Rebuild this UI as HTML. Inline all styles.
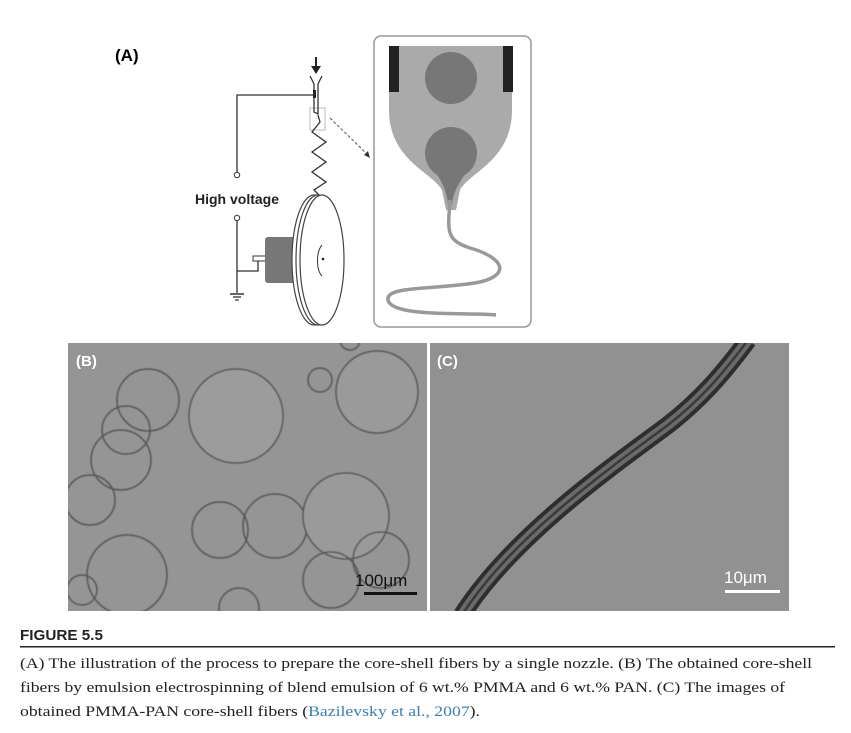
<!DOCTYPE html>
<html><head><meta charset="utf-8"><style>
html,body{margin:0;padding:0;background:#fff;}
svg{display:block;}
</style></head><body>
<svg width="851" height="733" viewBox="0 0 851 733" xmlns="http://www.w3.org/2000/svg">
<defs>
<filter id="blur1"><feGaussianBlur stdDeviation="0.6"/></filter>
<clipPath id="cb"><rect x="68" y="343" width="359" height="268"/></clipPath>
<clipPath id="cc"><rect x="430" y="343" width="359" height="268"/></clipPath>
</defs>
<!-- Panel A -->
<text x="115" y="61" font-family="Liberation Sans, sans-serif" font-weight="bold" font-size="17">(A)</text>
<rect x="374" y="36" width="157" height="291" rx="7" fill="#fff" stroke="#999" stroke-width="1.5"/>
<path d="M389 46 L512 46 L512 110 C512 160 470 172 460 190 L456 210 L446 210 L442 190 C432 172 389 160 389 110 Z" fill="#aaa"/>
<rect x="389" y="46" width="10" height="46" fill="#222"/>
<rect x="503" y="46" width="10" height="46" fill="#222"/>
<circle cx="451" cy="78" r="26" fill="#777"/>
<circle cx="451" cy="153" r="26" fill="#777"/>
<path d="M432 168 C442 180 447 192 448 205 L452 205 C453 192 460 180 470 168 Z" fill="#777"/>
<path d="M450 200 C448 230 445 240 470 248 C505 258 510 275 480 282 C440 290 385 285 388 300 C392 318 470 312 496 315" fill="none" stroke="#999" stroke-width="3.5"/>
<!-- dashed connector -->
<path d="M330 118 L368 155" stroke="#555" stroke-width="1" stroke-dasharray="3,2" fill="none"/>
<path d="M370 158 L364 155 L368 151 Z" fill="#333"/>
<rect x="310" y="108" width="15" height="22" fill="none" stroke="#bbb" stroke-width="1"/>
<!-- needle & arrow -->
<line x1="316" y1="57" x2="316" y2="68" stroke="#222" stroke-width="2"/>
<path d="M311 66 L321 66 L316 74 Z" fill="#222"/>
<path d="M310 76 L314 84 L314 112 L318 114 L318 84 L322 76" fill="none" stroke="#333" stroke-width="1.3"/>
<rect x="313" y="90" width="3" height="8" fill="#222"/>
<polyline points="313,95 237,95 237,172" fill="none" stroke="#333" stroke-width="1.3"/>
<circle cx="237" cy="175" r="2.7" fill="#fff" stroke="#333" stroke-width="1"/>
<text x="195" y="204" font-family="Liberation Sans, sans-serif" font-weight="bold" font-size="14" fill="#222">High voltage</text>
<circle cx="237" cy="218" r="2.7" fill="#fff" stroke="#333" stroke-width="1"/>
<polyline points="237,221 237,293" fill="none" stroke="#333" stroke-width="1.3"/>
<line x1="230" y1="294" x2="244" y2="294" stroke="#333" stroke-width="1.5"/>
<line x1="233" y1="297" x2="241" y2="297" stroke="#333" stroke-width="1.3"/>
<line x1="235" y1="300" x2="239" y2="300" stroke="#333" stroke-width="1.2"/>
<polyline points="237,271 258,271 258,260" fill="none" stroke="#333" stroke-width="1.3"/>
<rect x="253" y="256" width="14" height="5" fill="#fff" stroke="#333" stroke-width="1"/>
<!-- zigzag -->
<polyline points="318,115 320,122 312,132 326,142 312,152 326,162 312,172 326,182 314,190 320,196" fill="none" stroke="#333" stroke-width="1.3"/>
<!-- motor -->
<rect x="265" y="237" width="36" height="46" rx="3" fill="#777"/>
<rect x="294" y="232" width="10" height="56" fill="#888"/>
<!-- disc -->
<ellipse cx="314" cy="260" rx="22" ry="65" fill="#fff" stroke="#444" stroke-width="1.2"/>
<ellipse cx="318" cy="260" rx="22" ry="65" fill="#fff" stroke="#444" stroke-width="1.2"/>
<ellipse cx="322" cy="260" rx="22" ry="65" fill="#fff" stroke="#444" stroke-width="1.2"/>
<path d="M322 245 C316 252 316 270 322 276" fill="none" stroke="#333" stroke-width="1"/>
<circle cx="323" cy="259" r="1.3" fill="#222"/>
<!-- Panel B -->
<rect x="68" y="343" width="359" height="268" fill="#959595"/>
<g clip-path="url(#cb)">
<g fill="none" stroke="#555" stroke-width="1.5" filter="url(#blur1)">
<circle cx="236" cy="416" r="47" fill="#9c9c9c"/>
<circle cx="377" cy="392" r="41" fill="#9a9a9a"/>
<circle cx="148" cy="400" r="31"/>
<circle cx="121" cy="460" r="30"/>
<circle cx="127" cy="575" r="40"/>
<circle cx="220" cy="530" r="28"/>
<circle cx="275" cy="526" r="32"/>
<circle cx="346" cy="516" r="43" fill="#9a9a9a"/>
<circle cx="331" cy="580" r="28"/>
<circle cx="381" cy="560" r="28"/>
<circle cx="90" cy="500" r="25"/>
<circle cx="126" cy="430" r="24"/>
<circle cx="239" cy="608" r="20"/>
<circle cx="82" cy="590" r="15"/>
<circle cx="320" cy="380" r="12"/>
<circle cx="350" cy="340" r="10"/>
</g>
</g>
<text x="76" y="366" font-family="Liberation Sans, sans-serif" font-weight="bold" font-size="15" fill="#fff">(B)</text>
<text x="355" y="586" font-family="Liberation Sans, sans-serif" font-size="17" fill="#111">100μm</text>
<rect x="364" y="592" width="53" height="3" fill="#111"/>
<!-- Panel C -->
<rect x="430" y="343" width="359" height="268" fill="#919191"/>
<g clip-path="url(#cc)">
<path d="M462 615 C510 540 600 475 668 425 C700 400 722 375 748 340" fill="none" stroke="#2e2e2e" stroke-width="18"/>
<path d="M462 615 C510 540 600 475 668 425 C700 400 722 375 748 340" fill="none" stroke="#6a6a6a" stroke-width="10"/>
<path d="M462 615 C510 540 600 475 668 425 C700 400 722 375 748 340" fill="none" stroke="#3a3a3a" stroke-width="2.5"/>
</g>
<text x="437" y="366" font-family="Liberation Sans, sans-serif" font-weight="bold" font-size="15" fill="#fff">(C)</text>
<text x="724" y="583" font-family="Liberation Sans, sans-serif" font-size="17" fill="#fff">10μm</text>
<rect x="725" y="590" width="55" height="3" fill="#fff"/>
<!-- Caption -->
<text x="20" y="640" font-family="Liberation Sans, sans-serif" font-weight="bold" font-size="15" textLength="83" lengthAdjust="spacingAndGlyphs" fill="#222">FIGURE 5.5</text>
<rect x="20" y="646" width="815" height="1.5" fill="#222"/>
<g font-family="Liberation Serif, serif" font-size="15" fill="#222">
<text x="20" y="668" textLength="792" lengthAdjust="spacingAndGlyphs">(A) The illustration of the process to prepare the core-shell fibers by a single nozzle. (B) The obtained core-shell</text>
<text x="20" y="692" textLength="765" lengthAdjust="spacingAndGlyphs">fibers by emulsion electrospinning of blend emulsion of 6 wt.% PMMA and 6 wt.% PAN. (C) The images of</text>
<text x="20" y="716" textLength="460" lengthAdjust="spacingAndGlyphs">obtained PMMA-PAN core-shell fibers (<tspan fill="#3a7fb0">Bazilevsky et al., 2007</tspan>).</text>
</g>
</svg>
</body></html>
